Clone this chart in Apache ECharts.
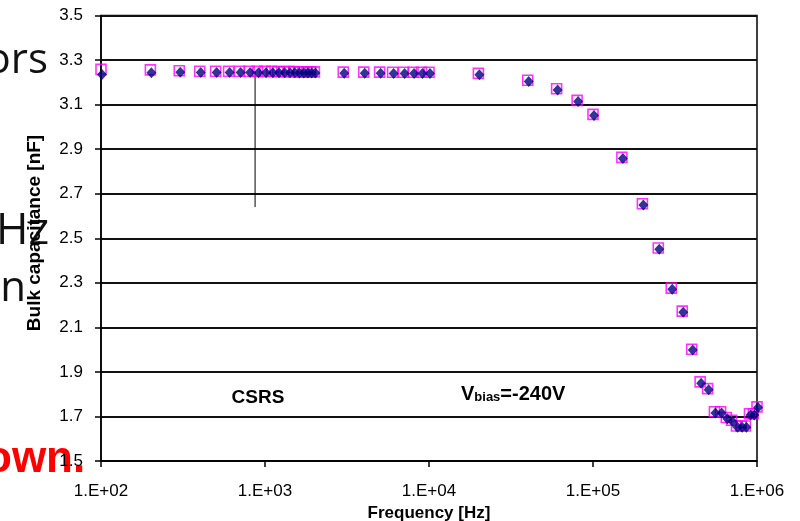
<!DOCTYPE html>
<html>
<head>
<meta charset="utf-8">
<script src="https://cdn.jsdelivr.net/npm/echarts@6/dist/echarts.min.js"></script>
<style>
  html, body { margin: 0; padding: 0; background: #ffffff; }
  #chart { width: 800px; height: 521px; }
</style>
</head>
<body>
<div id="chart"></div>
<script>
// Measurement frequencies [Hz]
const frequencies = [
  100, 200, 300, 400, 500, 600, 700, 800, 900,
  1000, 1100, 1200, 1300, 1400, 1500, 1600, 1700, 1800, 1900, 2000,
  3000, 4000, 5000, 6000, 7000, 8000, 9000, 10000,
  20000, 40000, 60000, 80000, 100000, 150000, 200000, 250000,
  300000, 350000, 400000, 450000, 500000, 550000, 600000, 650000,
  700000, 750000, 800000, 850000, 900000, 950000, 1000000
];

// Bulk capacitance [nF], run 1 (open squares)
const capSquares = [
  3.258, 3.256, 3.252, 3.250, 3.250, 3.250, 3.250, 3.250, 3.249,
  3.249, 3.249, 3.248, 3.248, 3.248, 3.248, 3.247, 3.247, 3.247, 3.247, 3.247,
  3.246, 3.246, 3.246, 3.245, 3.245, 3.245, 3.245, 3.245,
  3.240, 3.209, 3.171, 3.119, 3.056, 2.863, 2.655, 2.456,
  2.276, 2.173, 2.002, 1.855, 1.825, 1.721, 1.721, 1.695,
  1.683, 1.657, 1.657, 1.657, 1.712, 1.712, 1.743
];

// Bulk capacitance [nF], run 2 (filled diamonds)
const capDiamonds = [
  3.240, 3.247, 3.250, 3.249, 3.249, 3.249, 3.249, 3.249, 3.248,
  3.248, 3.248, 3.247, 3.247, 3.247, 3.247, 3.246, 3.246, 3.246, 3.246, 3.246,
  3.245, 3.245, 3.245, 3.244, 3.244, 3.244, 3.244, 3.244,
  3.239, 3.208, 3.170, 3.118, 3.055, 2.862, 2.654, 2.455,
  2.275, 2.172, 2.003, 1.854, 1.824, 1.720, 1.720, 1.694,
  1.682, 1.656, 1.656, 1.656, 1.711, 1.711, 1.745
];

// Axis ticks
const xTickLabels = ['1.E+02', '1.E+03', '1.E+04', '1.E+05', '1.E+06'];
const yTicks = [1.5, 1.7, 1.9, 2.1, 2.3, 2.5, 2.7, 2.9, 3.1, 3.3, 3.5];

// Vertical marker line
const markerFreq = 870;
const markerCap = [3.25, 2.64];

const FONT = '"Liberation Sans", Arial, sans-serif';

const chart = echarts.init(document.getElementById('chart'), null, { renderer: 'canvas' });

chart.setOption({
  animation: false,
  backgroundColor: '#ffffff',
  grid: {
    left: 101, right: 43, top: 15.5, bottom: 60,
    outerBoundsMode: 'none',
    containLabel: false,
    show: true, borderColor: '#000', borderWidth: 1.5,
    backgroundColor: 'transparent'
  },
  xAxis: {
    type: 'log',
    logBase: 10,
    min: 100,
    max: 1e6,
    name: 'Frequency [Hz]',
    nameLocation: 'middle',
    nameGap: 35,
    nameTextStyle: { fontFamily: FONT, fontWeight: 'bold', fontSize: 17, color: '#000' },
    axisLine: { lineStyle: { color: '#000', width: 1.5 } },
    axisTick: { show: true, length: 6, lineStyle: { color: '#000', width: 1.5 } },
    minorTick: { show: false },
    splitLine: { show: false },
    axisLabel: {
      fontFamily: FONT, fontSize: 17, color: '#000', margin: 22,
      formatter: v => xTickLabels[Math.round(Math.log10(v)) - 2]
    }
  },
  yAxis: {
    type: 'value',
    min: 1.5,
    max: 3.5,
    axisLine: { show: true, lineStyle: { color: '#000', width: 1.5 } },
    axisTick: { show: true, length: 6, customValues: yTicks, lineStyle: { color: '#000', width: 1.5 } },
    splitLine: { show: true, lineStyle: { color: '#111', width: 1.8 } },
    axisLabel: {
      customValues: yTicks,
      fontFamily: FONT, fontSize: 17, color: '#000', margin: 18,
      formatter: v => v.toFixed(1)
    }
  },
  graphic: [
    // slide text lying behind the chart
    { type: 'text', z: -10, x: 48, y: 61,
      style: { text: 'ors', font: '42px "Open Sans", sans-serif', fill: '#111', textAlign: 'right', textVerticalAlign: 'middle' } },
    { type: 'text', z: -10, x: -4, y: 231,
      style: { text: 'Hz', font: '44px "Open Sans", sans-serif', fill: '#111', textAlign: 'left', textVerticalAlign: 'middle' } },
    { type: 'text', z: -10, x: 26, y: 289,
      style: { text: 'an', font: '42px "Open Sans", sans-serif', fill: '#111', textAlign: 'right', textVerticalAlign: 'middle' } },
    { type: 'text', z: -10, x: -15, y: 460,
      style: { text: 'own.', font: 'bold 44px ' + FONT, fill: '#ff0000', textAlign: 'left', textVerticalAlign: 'middle' } },
    // y axis title
    { type: 'text', z: 10, x: 35, y: 233, rotation: Math.PI / 2,
      style: { text: 'Bulk capacitance [nF]', font: 'bold 19px ' + FONT, fill: '#000', textAlign: 'center', textVerticalAlign: 'middle' } },
    // annotations
    { type: 'text', z: 10, x: 258, y: 398,
      style: { text: 'CSRS', font: 'bold 19px ' + FONT, fill: '#000', textAlign: 'center', textVerticalAlign: 'middle' } },
    { type: 'text', z: 10, x: 461, y: 394,
      style: {
        text: '{v|V}{s|bias}{v|=-240V}',
        textVerticalAlign: 'middle',
        rich: {
          v: { fontFamily: FONT, fontWeight: 'bold', fontSize: 20, fill: '#000', color: '#000' },
          s: { fontFamily: FONT, fontWeight: 'bold', fontSize: 13, fill: '#000', color: '#000', verticalAlign: 'bottom', padding: [7, 0, 0, 0] }
        }
      } }
  ],
  series: [
    {
      name: 'marker',
      type: 'line',
      data: [[markerFreq, markerCap[0]], [markerFreq, markerCap[1]]],
      symbol: 'none',
      lineStyle: { color: '#000', width: 1 },
      z: 1,
      silent: true
    },
    {
      name: 'run 1',
      type: 'scatter',
      data: frequencies.map((f, i) => [f, capSquares[i]]),
      symbol: 'rect',
      symbolSize: 10,
      itemStyle: { color: 'rgba(0,0,0,0)', borderColor: '#ff00ff', borderWidth: 1.6 },
      z: 2
    },
    {
      name: 'run 2',
      type: 'scatter',
      data: frequencies.map((f, i) => [f, capDiamonds[i]]),
      symbol: 'diamond',
      symbolSize: [10, 11],
      symbolOffset: [1, 1],
      itemStyle: { color: '#000080' },
      z: 3
    }
  ]
});
</script>
</body>
</html>
